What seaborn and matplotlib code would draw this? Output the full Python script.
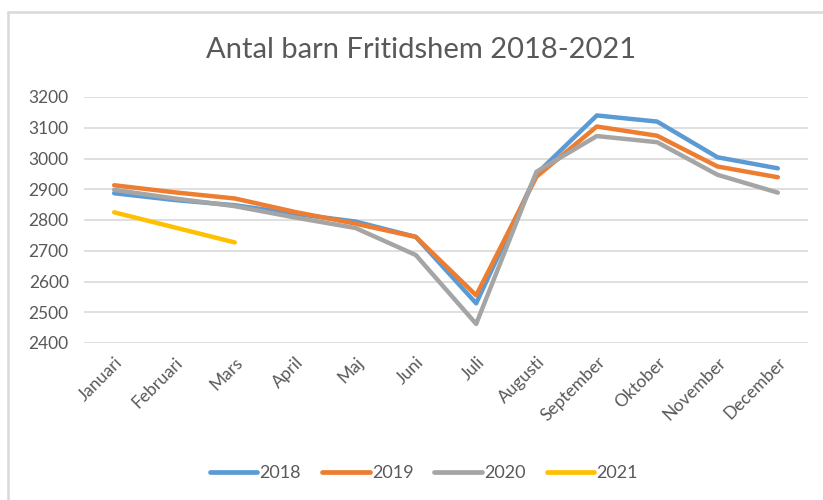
import matplotlib
matplotlib.use("Agg")
import matplotlib.pyplot as plt
from matplotlib.lines import Line2D
import seaborn as sns
import pandas as pd
import numpy as np

months = ["Januari", "Februari", "Mars", "April", "Maj", "Juni", "Juli",
          "Augusti", "September", "Oktober", "November", "December"]
v2018 = [2887, 2865, 2848, 2820, 2795, 2745, 2529, 2950, 3140, 3120, 3004, 2968]
v2019 = [2913, 2890, 2870, 2826, 2788, 2745, 2555, 2941, 3104, 3074, 2974, 2939]
v2020 = [2898, 2870, 2845, 2808, 2774, 2686, 2462, 2957, 3073, 3053, 2947, 2889]
v2021 = [2825, 2776, 2727] + [np.nan] * 9
years = ["2018", "2019", "2020", "2021"]
colors = ["#5B9BD5", "#ED7D31", "#A5A5A5", "#FFC000"]

df = pd.DataFrame({
    "x": list(range(12)) * 4,
    "Antal": v2018 + v2019 + v2020 + v2021,
    "År": sum([[y] * 12 for y in years], []),
})

sns.set_theme(style="white")
plt.rcParams["font.family"] = ["Lato", "DejaVu Sans"]

fig = plt.figure(figsize=(8.23, 5.0), dpi=100)
ax = fig.add_axes([84 / 823, 1 - 343 / 500, (808 - 84) / 823, (343 - 97) / 500])

sns.lineplot(data=df, x="x", y="Antal", hue="År", palette=colors,
             linewidth=3.2, ax=ax, legend=False, sort=False,
             solid_capstyle="round", solid_joinstyle="round")

ax.set_xlim(-0.5, 11.5)
ax.set_ylim(2400, 3200)
ax.set_yticks(range(2400, 3201, 100))
ax.set_xticks(range(12))
ax.set_xticklabels(months, rotation=45, ha="right", rotation_mode="anchor")
ax.grid(axis="y", color="#D9D9D9", linewidth=1.2)
ax.set_axisbelow(True)
for s in ax.spines.values():
    s.set_visible(False)
ax.tick_params(axis="both", length=0, colors="#595959")
ax.tick_params(axis="x", pad=8, labelsize=12.5)
ax.tick_params(axis="y", pad=11, labelsize=12.5)
ax.set_xlabel("")
ax.set_ylabel("")

fig.text(0.512, 1 - 50 / 500, "Antal barn Fritidshem 2018-2021", ha="center",
         va="center", fontsize=21, color="#595959")

handles = [Line2D([0], [0], color=c, lw=3.4, solid_capstyle="round") for c in colors]
fig.legend(handles, years, loc="center", bbox_to_anchor=(0.515, 1 - 473 / 500),
           ncol=4, frameon=False, fontsize=13, labelcolor="#595959",
           handlelength=2.65, handletextpad=0.12, columnspacing=1.15)

# chart area border (top and left visible)
fig.add_artist(Line2D([8 / 823, 8 / 823], [0, 1 - 12 / 500],
                      transform=fig.transFigure, color="#D9D9D9", lw=1.8))
fig.add_artist(Line2D([8 / 823, 1], [1 - 12 / 500, 1 - 12 / 500],
                      transform=fig.transFigure, color="#D9D9D9", lw=1.8))

fig.savefig("out.png", dpi=100)
